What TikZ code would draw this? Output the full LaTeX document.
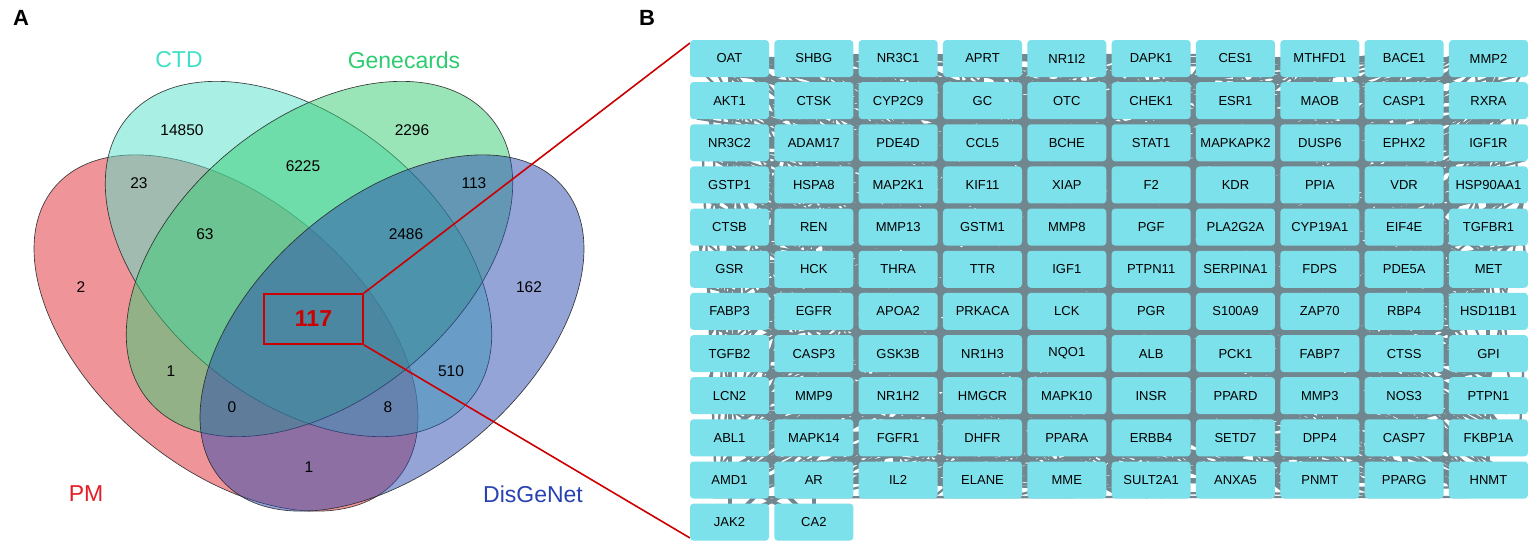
\documentclass[tikz,border=0pt]{standalone}
\usepackage{fontspec}
\setmainfont{Liberation Sans}
\usetikzlibrary{backgrounds,calc}
\definecolor{pmc}{RGB}{225,45,55}
\definecolor{ctdc}{RGB}{85,225,201}
\definecolor{gcc}{RGB}{55,205,115}
\definecolor{dgc}{RGB}{45,75,175}
\definecolor{pmt}{RGB}{228,30,38}
\definecolor{ctdt}{RGB}{64,224,200}
\definecolor{gct}{RGB}{46,204,113}
\definecolor{dgt}{RGB}{40,66,178}
\definecolor{boxc}{RGB}{125,225,236}
\definecolor{netc}{RGB}{113,135,144}
\definecolor{hlred}{RGB}{204,0,0}
\tikzset{
  venn/.style={fill opacity=0.5, draw=black!85, draw opacity=0.9, line width=0.65pt},
  num/.style={font=\fontsize{15.5}{18}\selectfont, text=black, inner sep=0pt},
  setlab/.style={font=\fontsize{23}{27}\selectfont, inner sep=0pt},
  panel/.style={font=\bfseries\fontsize{22}{26}\selectfont, inner sep=0pt},
  hlbox/.style={draw=hlred, line width=1.8pt, minimum width=99pt, minimum height=50pt, inner sep=0pt,
    text=hlred, font=\bfseries\fontsize{23}{27}\selectfont},
  zoomline/.style={draw=hlred, line width=1.6pt},
  gene/.style={fill=boxc, rounded corners=3.5pt, minimum width=79pt, minimum height=37pt,
    inner sep=0pt, font=\fontsize{13}{15}\selectfont},
  netlocal/.style={draw=netc, line width=4pt},
  netrand/.style={draw=netc, line width=2.3pt},
}
\begin{document}
\begin{tikzpicture}[x=1pt,y=1pt]
\useasboundingbox (0,0) rectangle (1535,-546);
\begin{scope}[on background layer]
  \fill[white] (0,0) rectangle (1535,-546);
\end{scope}

% ---------- Venn diagram ----------
\path[venn, fill=pmc,  rotate around={-40.5:(226,-333)}]   (226,-333)   ellipse [x radius=225pt, y radius=134pt];
\path[venn, fill=ctdc, rotate around={-39.4:(298.5,-259)}] (298.5,-259) ellipse [x radius=222pt, y radius=140pt];
\path[venn, fill=gcc,  rotate around={39.4:(319.5,-259)}]  (319.5,-259) ellipse [x radius=222pt, y radius=140pt];
\path[venn, fill=dgc,  rotate around={40.5:(392,-333)}]    (392,-333)   ellipse [x radius=225pt, y radius=134pt];

\node[panel] (pa) at (21,-18) {A};
\node[panel] (pb) at (647,-18) {B};

\node[setlab, text=ctdt] (lctd) at (179,-60) {CTD};
\node[setlab, text=gct]  (lgc)  at (404,-60) {Genecards};
\node[setlab, text=pmt]  (lpm)  at (86,-494) {PM};
\node[setlab, text=dgt]  (ldg)  at (533,-494) {DisGeNet};

\node[num] (v1) at (182,-130) {14850};
\node[num] (v2) at (412,-130) {2296};
\node[num] (v3) at (303,-166) {6225};
\node[num] (v4) at (139,-183) {23};
\node[num] (v5) at (474,-183) {113};
\node[num] (v6) at (205,-234) {63};
\node[num] (v7) at (406,-234) {2486};
\node[num] (v8) at (81,-287) {2};
\node[num] (v9) at (529,-287) {162};
\node[num] (v10) at (171,-371) {1};
\node[num] (v11) at (451,-371) {510};
\node[num] (v12) at (232,-407) {0};
\node[num] (v13) at (388,-407) {8};
\node[num] (v14) at (309,-467) {1};

\node[hlbox] (hl) at (313.5,-319) {117};
\coordinate (zt) at (690,-43);
\coordinate (zb) at (690,-538);
\draw[zoomline] (hl.north east) -- (zt);
\draw[zoomline] (hl.south east) -- (zb);

% ---------- network ----------
\foreach \name [count=\k from 0] in {OAT,SHBG,NR3C1,APRT,NR1I2,DAPK1,CES1,MTHFD1,BACE1,MMP2,
  AKT1,CTSK,CYP2C9,GC,OTC,CHEK1,ESR1,MAOB,CASP1,RXRA,
  NR3C2,ADAM17,PDE4D,CCL5,BCHE,STAT1,MAPKAPK2,DUSP6,EPHX2,IGF1R,
  GSTP1,HSPA8,MAP2K1,KIF11,XIAP,F2,KDR,PPIA,VDR,HSP90AA1,
  CTSB,REN,MMP13,GSTM1,MMP8,PGF,PLA2G2A,CYP19A1,EIF4E,TGFBR1,
  GSR,HCK,THRA,TTR,IGF1,PTPN11,SERPINA1,FDPS,PDE5A,MET,
  FABP3,EGFR,APOA2,PRKACA,LCK,PGR,S100A9,ZAP70,RBP4,HSD11B1,
  TGFB2,CASP3,GSK3B,NR1H3,NQO1,ALB,PCK1,FABP7,CTSS,GPI,
  LCN2,MMP9,NR1H2,HMGCR,MAPK10,INSR,PPARD,MMP3,NOS3,PTPN1,
  ABL1,MAPK14,FGFR1,DHFR,PPARA,ERBB4,SETD7,DPP4,CASP7,FKBP1A,
  AMD1,AR,IL2,ELANE,MME,SULT2A1,ANXA5,PNMT,PPARG,HNMT,
  JAK2,CA2}{
  \pgfmathtruncatemacro\gCol{mod(\k,10)}
  \pgfmathtruncatemacro\gRow{div(\k,10)}
  \node[gene] (g\k) at ({729.5+84.33*\gCol},{-58.5-42.15*\gRow}) {\name};
}

\begin{scope}[on background layer]
  \foreach \k in {0,...,109}{
    \pgfmathtruncatemacro\nCol{mod(\k,10)}
    \pgfmathtruncatemacro\nR{\k+1}
    \pgfmathtruncatemacro\nD{\k+10}
    \pgfmathtruncatemacro\nDR{\k+11}
    \pgfmathtruncatemacro\nDL{\k+9}
    \ifnum\nCol<9 \draw[netlocal] (g\k.center) -- (g\nR.center); \fi
    \ifnum\k<100
      \draw[netlocal] (g\k.center) -- (g\nD.center);
      \ifnum\nCol<9 \draw[netlocal] (g\k.center) -- (g\nDR.center); \fi
      \ifnum\nCol>0 \draw[netlocal] (g\k.center) -- (g\nDL.center); \fi
    \fi
  }
  \draw[netlocal] (g110.center) -- (g100.center);
  \draw[netlocal] (g111.center) -- (g101.center);
  \draw[netlocal] (g110.center) -- (g101.center);
  \draw[netlocal] (g111.center) -- (g100.center);
  \draw[netlocal] (g110.center) -- (g91.center);
  \draw[netlocal] (g111.center) -- (g90.center);
  \pgfmathsetseed{11}
  \foreach \e in {1,...,1500}{
    \pgfmathtruncatemacro\ea{random(0,109)}
    \pgfmathtruncatemacro\eb{random(0,109)}
    \pgfmathsetmacro\oxa{38*rand}
    \pgfmathsetmacro\oya{-6+12*rand}
    \pgfmathsetmacro\oxb{38*rand}
    \pgfmathsetmacro\oyb{-6+12*rand}
    \draw[netrand] ($(g\ea.center)+(\oxa,\oya)$) -- ($(g\eb.center)+(\oxb,\oyb)$);
  }
\end{scope}
\end{tikzpicture}
\end{document}
